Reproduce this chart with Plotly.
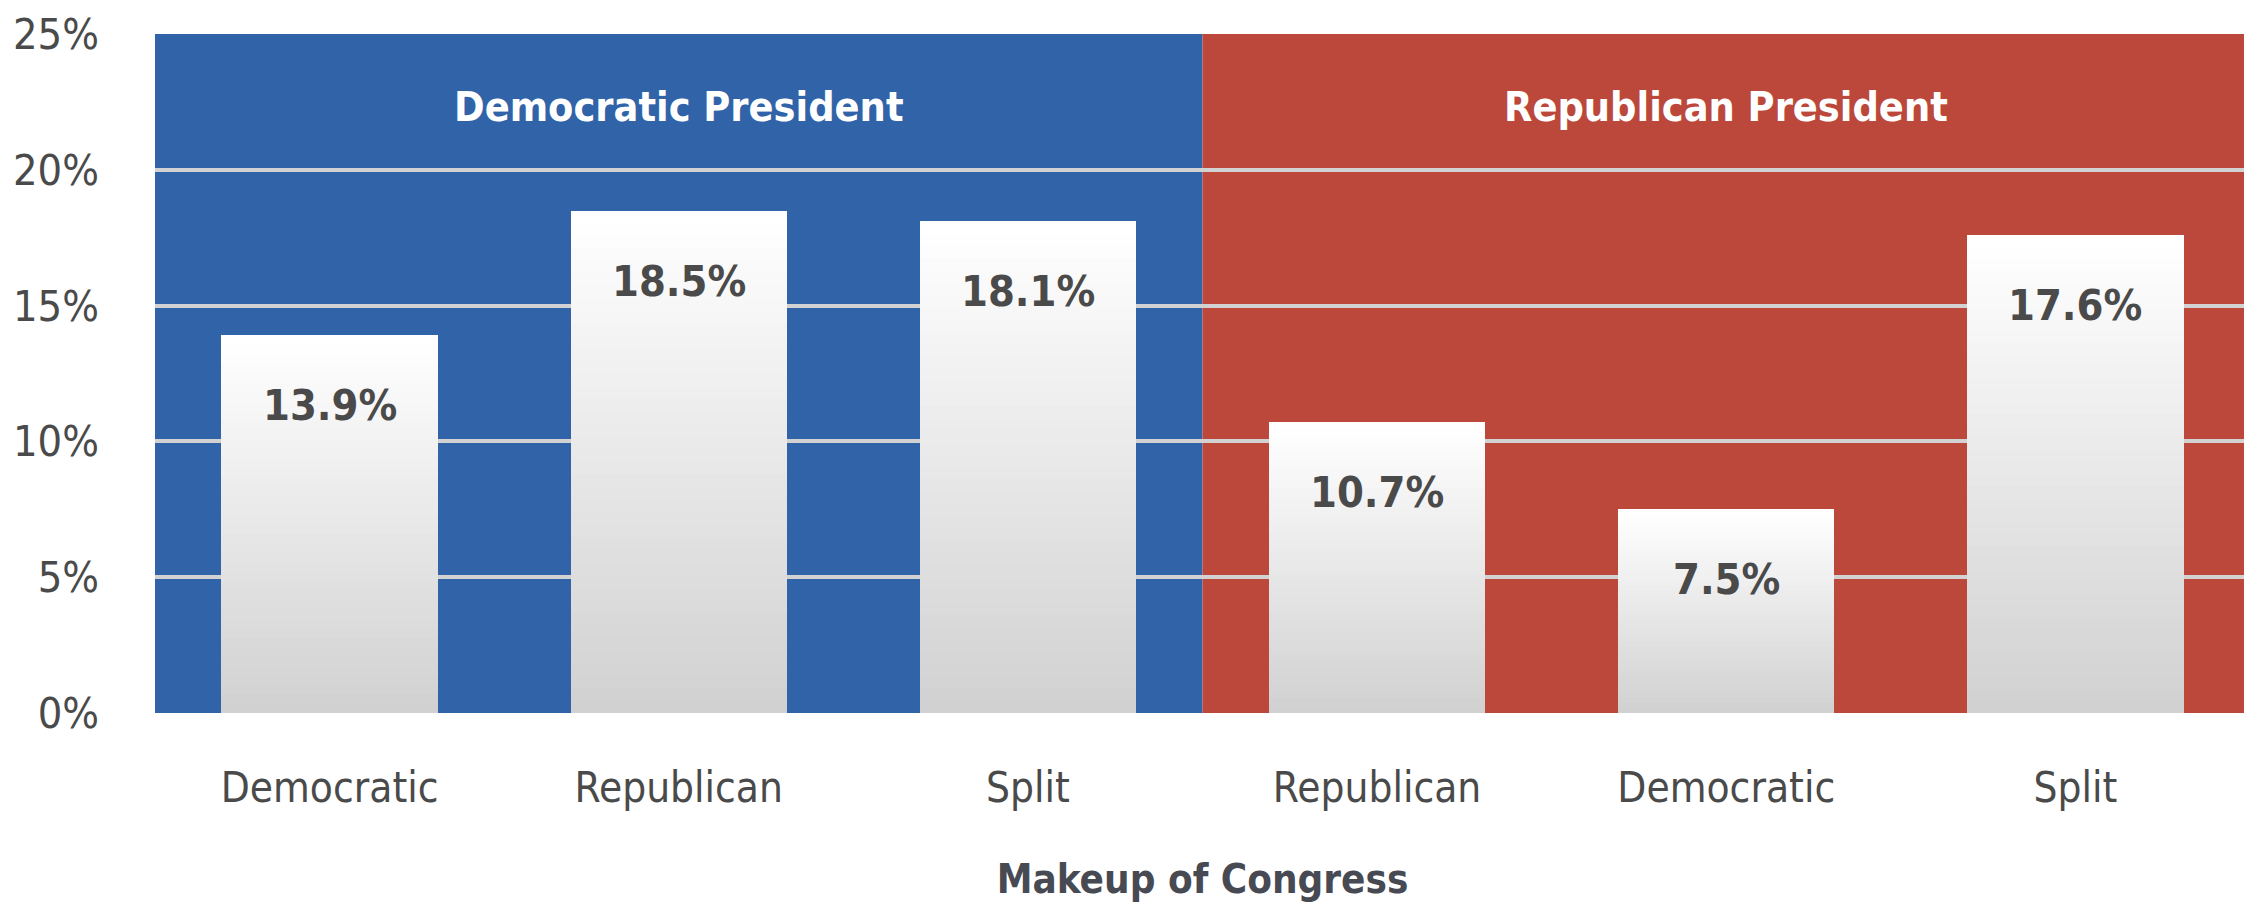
import plotly.graph_objects as go

# ---- data ----
categories = ["Democratic", "Republican", "Split", "Republican", "Democratic", "Split"]
values = [13.9, 18.5, 18.1, 10.7, 7.5, 17.6]
groups = ["Democratic President", "Republican President"]
group_sizes = [3, 3]
y_ticks = [0, 5, 10, 15, 20, 25]
x_title = "Makeup of Congress"

# ---- style ----
FONT = "Liberation Sans Narrow, DejaVu Sans Condensed, Roboto, sans-serif"
BLUE = "#3063a8"
RED = "#bb483a"
TEXT = "#4a4a4a"
N_LAYERS = 40
TOP_RGB = (255, 255, 255)
BOT_RGB = (208, 208, 208)

xpos = list(range(len(categories)))

fig = go.Figure()

# gradient-looking bars: overlay layers, tallest (white) first
for k in range(N_LAYERS):
    f = 1 - k / N_LAYERS
    t = 1 - f  # 0 at top, -> 1 at bottom
    c = tuple(round(TOP_RGB[i] + (BOT_RGB[i] - TOP_RGB[i]) * t) for i in range(3))
    fig.add_trace(go.Bar(
        x=xpos,
        y=[v * f for v in values],
        marker=dict(color=f"rgb{c}", line=dict(width=0)),
        width=0.62,
        hoverinfo="skip" if k else "y",
        showlegend=False,
    ))

# background panels per president group
bg_colors = [BLUE, RED]
start = -0.5
for g, n, col in zip(groups, group_sizes, bg_colors):
    fig.add_shape(type="rect", xref="x", yref="y", x0=start, x1=start + n,
                  y0=0, y1=25, fillcolor=col, line=dict(width=0), layer="below")
    fig.add_annotation(x=start + n / 2, y=22.3, xref="x", yref="y", text=f"<b>{g}</b>",
                       showarrow=False, font=dict(family=FONT, size=41, color="white"))
    start += n

# edge lines at 0% and 25%
for yv in (0, 25):
    fig.add_shape(type="line", xref="paper", yref="y", x0=0, x1=1, y0=yv, y1=yv,
                  line=dict(color="#d8d8d8", width=4), layer="between")

# value labels inside bars near top
for x, v in zip(xpos, values):
    fig.add_annotation(x=x, y=v, xref="x", yref="y", text=f"<b>{v:.1f}%</b>",
                       showarrow=False, yanchor="top", yshift=-43,
                       font=dict(family=FONT, size=43, color=TEXT))

# page body has an 8px default margin, so the figure is sized to fit the window
fig.update_layout(
    width=2244, height=899,
    margin=dict(l=147, r=2, t=26, b=194),
    paper_bgcolor="white", plot_bgcolor="white",
    barmode="overlay", bargap=0,
    font=dict(family=FONT, size=42, color=TEXT),
)
fig.update_xaxes(
    range=[-0.5, len(categories) - 0.5],
    tickvals=xpos, ticktext=categories,
    showgrid=False, zeroline=False, showline=False, ticks="",
    ticklabelstandoff=46, automargin=False,
    tickfont=dict(family=FONT, size=42, color=TEXT),
    title=dict(text=f"<b>{x_title}</b>", standoff=53,
               font=dict(family=FONT, size=40, color="#474a52")),
)
fig.update_yaxes(
    range=[0, 25], tickvals=y_ticks, ticktext=[f"{t}%" for t in y_ticks],
    showgrid=True, gridcolor="#d2d2d2", gridwidth=4,
    zeroline=False, showline=False, ticks="",
    ticklabelstandoff=55, automargin=False,
    tickfont=dict(family=FONT, size=43, color=TEXT),
)

fig.write_html("out.html")
